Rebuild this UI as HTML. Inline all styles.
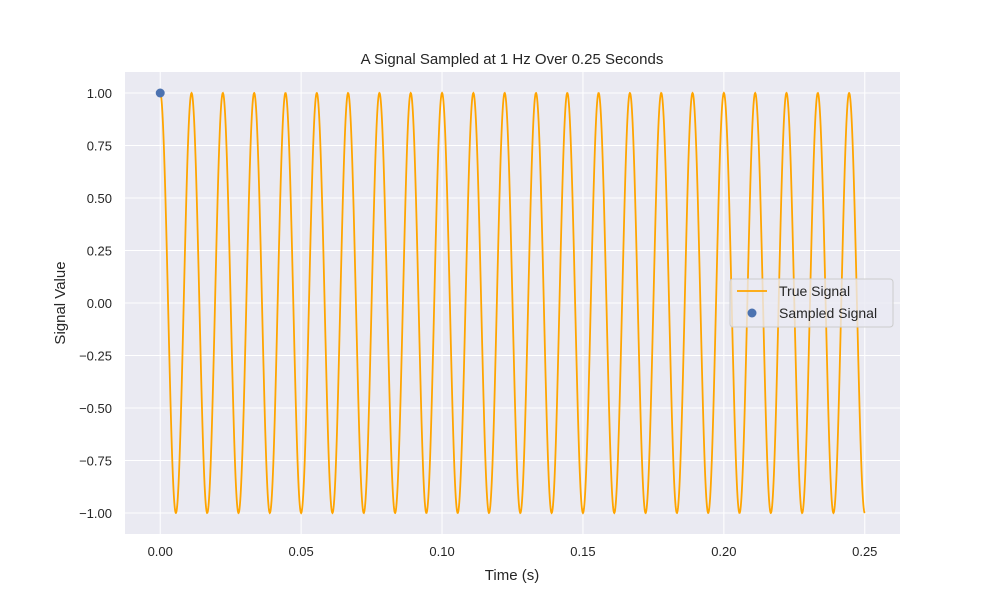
<!DOCTYPE html>
<html><head><meta charset="utf-8"><style>
body{margin:0;background:#fff;}
svg text{font-family:"Liberation Sans","DejaVu Sans",sans-serif;fill:#262626;}
</style></head><body>
<svg id="chart" width="1000" height="600" viewBox="0 0 1000 600">
<rect x="125" y="72" width="775" height="462" fill="#eaeaf2"/>
<g id="grid"></g>
<g id="ticks"></g>
<g id="series"></g>
<text x="512" y="64" font-size="15" text-anchor="middle">A Signal Sampled at 1 Hz Over 0.25 Seconds</text>
<text x="512" y="580" font-size="15" text-anchor="middle">Time (s)</text>
<text x="0" y="0" font-size="15" text-anchor="middle" transform="translate(65,303) rotate(-90)">Signal Value</text>
<g>
<rect x="730" y="279" width="163" height="48" rx="3" fill="#eaeaf2" fill-opacity="0.8" stroke="#ccc"/>
<line x1="737" y1="291" x2="767" y2="291" stroke="orange" stroke-width="1.8"/>
<text x="779" y="296" font-size="14">True Signal</text>
<circle cx="752" cy="313" r="4.5" fill="#4c72b0"/>
<text x="779" y="318" font-size="14">Sampled Signal</text>
</g>
</svg>
<script>
const xTicks=[0,0.05,0.10,0.15,0.20,0.25];
const xTickLabels=["0.00","0.05","0.10","0.15","0.20","0.25"];
const yTicks=[-1,-0.75,-0.5,-0.25,0,0.25,0.5,0.75,1];
const yTickLabels=["−1.00","−0.75","−0.50","−0.25","0.00","0.25","0.50","0.75","1.00"];
const signalFreq=[90];
const signalDuration=[0.25];
const sampledT=[0];
const sampledV=[1];
const NS="http://www.w3.org/2000/svg";
const X0=-0.0125,X1=0.2625,Y0=-1.1,Y1=1.1,L=125,R=900,T=72,B=534;
const sx=v=>L+(v-X0)/(X1-X0)*(R-L);
const sy=v=>B-(v-Y0)/(Y1-Y0)*(B-T);
function mk(tag,attrs,parent){const e=document.createElementNS(NS,tag);for(const k in attrs)e.setAttribute(k,attrs[k]);document.getElementById(parent).appendChild(e);return e;}
xTicks.forEach((t,i)=>{
 const g=mk('line',{x1:sx(t),x2:sx(t),y1:T,y2:B,stroke:'#fff','stroke-width':1},'grid');
 
 
 const l=mk('text',{x:sx(t),y:B+22,'font-size':13,'text-anchor':'middle'},'ticks');
 l.textContent=xTickLabels[i];
 
 
});
yTicks.forEach((t,i)=>{
 const g=mk('line',{x1:L,x2:R,y1:sy(t),y2:sy(t),stroke:'#fff','stroke-width':1},'grid');
 
 
 const l=mk('text',{x:L-13,y:sy(t)+5,'font-size':13,'text-anchor':'end'},'ticks');
 l.textContent=yTickLabels[i];
 
 
});
let d='';const N=2000;
for(let i=0;i<=N;i++){const t=signalDuration[0]*i/N;const v=Math.cos(2*Math.PI*signalFreq[0]*t);d+=(i?'L':'M')+sx(t).toFixed(2)+' '+sy(v).toFixed(2);}
const p=mk('path',{d:d,fill:'none',stroke:'orange','stroke-width':1.8},'series');


sampledT.forEach((t,i)=>{
 const c=mk('circle',{cx:sx(t),cy:sy(sampledV[i]),r:4.5,fill:'#4c72b0'},'series');
 
 
});
</script>
</body></html>
